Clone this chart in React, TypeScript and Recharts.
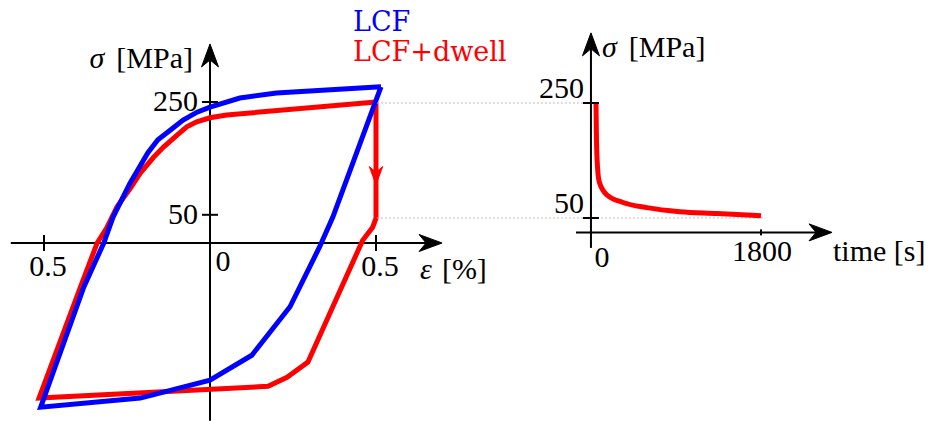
import React from 'react';
import { LineChart, Line, XAxis, YAxis, ReferenceLine, ReferenceDot, Legend } from 'recharts';

const WIDTH = 935;
const HEIGHT = 421;
const FONT = '"Liberation Serif", "DejaVu Serif", serif';
const LEGEND_FONT = '"DejaVu Serif", serif';
const BLUE = '#0000ff';
const RED = '#ff0000';

// LCF hysteresis loop, strain [%] and stress [MPa], traced around the loop
const lcfStrain = [0.515, 0.2, 0.09, 0, -0.039, -0.081, -0.12, -0.157, -0.187, -0.241, -0.292, -0.32, -0.38, -0.51, -0.21, 0, 0.126, 0.241, 0.33, 0.37, 0.515];
const lcfStress = [277, 266, 257, 241, 232, 218, 200, 183, 160, 106, 46, 0, -78, -291, -275, -243, -199, -113, -7, 46, 277];

// LCF+dwell loop, the vertical part is the relaxation at max strain
const dwellStrain = [0.5, 0.05, 0, -0.04, -0.07, -0.1, -0.14, -0.17, -0.21, -0.24, -0.28, -0.31, -0.34, -0.39, -0.515, 0.175, 0.232, 0.295, 0.46, 0.49, 0.5, 0.5];
const dwellStress = [250, 227, 222, 215, 206, 191, 170, 152, 124, 97, 64, 28, 0, -78, -275, -254, -238, -211, 5, 28, 44, 250];

// stress relaxation during the dwell
const holdTime = [0, 4, 12, 35, 120, 295, 555, 915, 1320, 1800];
const holdStress = [250, 198, 151, 113, 90, 77, 68, 61, 58, 54];

const strainTicks = [-0.5, 0.5];
const strainTickLabels = ['0.5', '0.5'];
const loopStressTicks = [250, 50];
const holdStressTicks = [250, 50];
const timeTicks = [1800];

const toPoints = (xs: number[], ys: number[]) => xs.map((x, i) => ({ x, y: ys[i] }));

const lcfData = toPoints(lcfStrain, lcfStress);
const dwellData = toPoints(dwellStrain, dwellStress);
const holdData = toPoints(holdTime, holdStress);

// stealth-like arrow head pointing right, tip at the origin
const ARROW = 'M0,0 L-23,-8.5 L-16,0 L-23,8.5 Z';

type MarkOpts = {
  arrow?: boolean;
  rot?: number;
  scale?: number;
  color?: string;
  tick?: 'v' | 'h';
  tickLen?: number;
  label?: React.ReactNode;
  dx?: number;
  dy?: number;
  anchor?: 'start' | 'middle' | 'end';
};

const mark = ({ arrow, rot = 0, scale = 1, color = '#000', tick, tickLen = 8, label, dx = 0, dy = 0, anchor = 'middle' }: MarkOpts) =>
  (p: any) => {
    const { cx, cy } = p;
    return (
      <g>
        {arrow && (
          <path d={ARROW} transform={`translate(${cx},${cy}) rotate(${rot}) scale(${scale})`} fill={color} stroke={color} strokeWidth={1} />
        )}
        {tick === 'v' && <line x1={cx} x2={cx} y1={cy - tickLen} y2={cy + tickLen} stroke="#000" strokeWidth={2} />}
        {tick === 'h' && <line x1={cx - tickLen} x2={cx + tickLen} y1={cy} y2={cy} stroke="#000" strokeWidth={2} />}
        {label != null && (
          <text x={cx + dx} y={cy + dy} textAnchor={anchor} style={{ fontFamily: FONT }} fontSize={30} fill="#000">
            {label}
          </text>
        )}
      </g>
    );
  };

const stressLabel = (
  <>
    <tspan fontStyle="italic">σ</tspan>
    <tspan dx={12}>[MPa]</tspan>
  </>
);

const LegendBox = (props: any) => {
  const items = [...(props.payload || [])].sort((a, b) => String(a.value).localeCompare(String(b.value)));
  return (
    <div style={{ fontFamily: LEGEND_FONT, fontSize: 27, lineHeight: '30px' }}>
      {items.map((e: any) => (
        <div key={e.value} style={{ color: e.color }}>{e.value}</div>
      ))}
    </div>
  );
};

const layer: React.CSSProperties = { position: 'absolute', left: 0, top: 0 };
const noMargin = { top: 0, right: 0, bottom: 0, left: 0 };

export default function App() {
  return (
    <div style={{ position: 'absolute', left: 0, top: 0, width: WIDTH, height: HEIGHT, background: '#fff' }}>
      {/* stress-strain loops */}
      <div style={layer}>
        <LineChart width={WIDTH} height={HEIGHT} margin={noMargin}>
          <XAxis type="number" dataKey="x" domain={[-0.63253, 2.18373]} allowDataOverflow hide />
          <YAxis type="number" domain={[-315.6, 430.85]} allowDataOverflow hide width={0} />

          <ReferenceLine segment={[{ x: -0.6, y: 0 }, { x: 0.68, y: 0 }]} stroke="#000" strokeWidth={2} />
          <ReferenceLine segment={[{ x: 0, y: -315 }, { x: 0, y: 340 }]} stroke="#000" strokeWidth={2} />

          <ReferenceDot x={0.699} y={0} shape={mark({ arrow: true, rot: 0, label: <><tspan fontStyle="italic">ε</tspan><tspan dx={10}>[%]</tspan></>, dx: -22, dy: 36, anchor: 'start' })} />
          <ReferenceDot x={0} y={353} shape={mark({ arrow: true, rot: -90, label: stressLabel, dx: -17, dy: 24, anchor: 'end' })} />

          {strainTicks.map((t, i) => (
            <ReferenceDot key={`sx${t}`} x={t} y={0} shape={mark({ tick: 'v', label: strainTickLabels[i], dx: 4, dy: 33 })} />
          ))}
          <ReferenceDot x={0} y={0} shape={mark({ label: '0', dx: 13, dy: 28 })} />
          {loopStressTicks.map((s) => (
            <ReferenceDot key={`sy${s}`} x={0} y={s} shape={mark({ tick: 'h', label: String(s), dx: -12, dy: 9, anchor: 'end' })} />
          ))}

          <Line data={dwellData} dataKey="y" name="LCF+dwell" type="linear" stroke={RED} strokeWidth={5} dot={false} activeDot={false} isAnimationActive={false} />
          <Line data={lcfData} dataKey="y" name="LCF" type="linear" stroke={BLUE} strokeWidth={5} dot={false} activeDot={false} isAnimationActive={false} />

          {/* direction of the dwell relaxation */}
          <ReferenceDot x={0.5} y={103} shape={mark({ arrow: true, rot: 90, scale: 0.8, color: RED })} />

          <Legend
            layout="horizontal"
            verticalAlign="middle"
            align="center"
            content={LegendBox}
            wrapperStyle={{ left: 353, top: 7, width: 'auto', height: 'auto' }}
          />
        </LineChart>
      </div>

      {/* stress relaxation vs time */}
      <div style={layer}>
        <LineChart width={WIDTH} height={HEIGHT} margin={noMargin}>
          <XAxis type="number" dataKey="x" domain={[-6501.8, 3698.2]} allowDataOverflow hide />
          <YAxis type="number" domain={[-303.04, 429.13]} allowDataOverflow hide width={0} />

          <ReferenceLine segment={[{ x: -2390, y: 250 }, { x: -30, y: 250 }]} stroke="#bbb" strokeWidth={1} strokeDasharray="2 2" />
          <ReferenceLine segment={[{ x: -2390, y: 50 }, { x: 1850, y: 50 }]} stroke="#bbb" strokeWidth={1} strokeDasharray="2 2" />

          <ReferenceLine segment={[{ x: -218, y: 25 }, { x: 2400, y: 25 }]} stroke="#000" strokeWidth={2} />
          <ReferenceLine segment={[{ x: -55, y: -2 }, { x: -55, y: 355 }]} stroke="#000" strokeWidth={2} />

          <ReferenceDot x={2575} y={25} shape={mark({ arrow: true, rot: 0, label: 'time [s]', dx: 1, dy: 29, anchor: 'start' })} />
          <ReferenceDot x={-55} y={372} shape={mark({ arrow: true, rot: -90, label: stressLabel, dx: 11, dy: 24, anchor: 'start' })} />

          {holdStressTicks.map((s) => (
            <ReferenceDot key={`hy${s}`} x={-55} y={s} shape={mark({ tick: 'h', label: String(s), dx: -7, dy: -5, anchor: 'end' })} />
          ))}
          {timeTicks.map((t) => (
            <ReferenceDot key={`hx${t}`} x={t} y={25} shape={mark({ tick: 'v', tickLen: 3, label: String(t), dx: 1, dy: 29 })} />
          ))}
          <ReferenceDot x={0} y={25} shape={mark({ label: '0', dx: 6, dy: 35 })} />

          <Line data={holdData} dataKey="y" name="relaxation" type="monotone" stroke={RED} strokeWidth={5} dot={false} activeDot={false} isAnimationActive={false} legendType="none" />
        </LineChart>
      </div>
    </div>
  );
}
